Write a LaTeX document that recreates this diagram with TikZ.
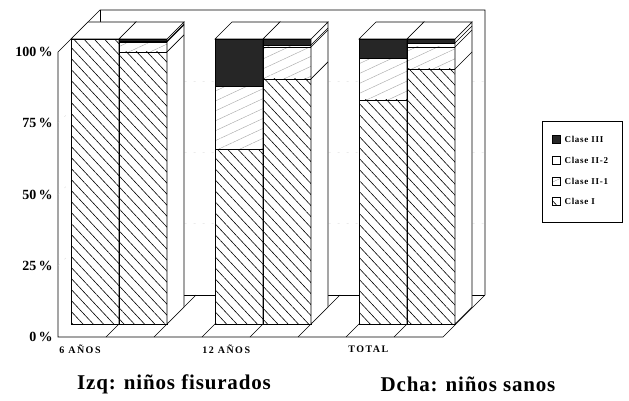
\documentclass[tikz,border=0pt]{standalone}
\usepackage{fontspec}
\setmainfont{Liberation Serif}
\usetikzlibrary{patterns.meta,positioning}

% barra 3D: #1 = x del borde izquierdo de la casilla; #2..#5 = topes acumulados (%)
\newcommand{\barra}[5]{%
  \pgfmathsetmacro{\ya}{76+2.85*#2}
  \pgfmathsetmacro{\yb}{76+2.85*#3}
  \pgfmathsetmacro{\yc}{76+2.85*#4}
  \pgfmathsetmacro{\yd}{76+2.85*#5}
  \pgfmathsetmacro{\xa}{#1+13}
  \pgfmathsetmacro{\xb}{#1+61}
  % cara frontal
  \fill[white] (\xa,76) rectangle (\xb,\yd);
  \fill[claseI] (\xa,76) rectangle (\xb,\ya);
  \fill[claseIIuno] (\xa,\ya) rectangle (\xb,\yb);
  \fill[claseIII] (\xa,\yc) rectangle (\xb,\yd);
  \draw (\xa,76) rectangle (\xb,\yd);
  \draw (\xa,\ya) -- (\xb,\ya) (\xa,\yb) -- (\xb,\yb) (\xa,\yc) -- (\xb,\yc);
  % cara lateral
  \draw[fill=white] (\xb,76) -- ++(17,17) -- ++(0,\yd-76) -- (\xb,\yd) -- cycle;
  \draw (\xb,\ya) -- ++(17,17) (\xb,\yb) -- ++(17,17) (\xb,\yc) -- ++(17,17);
  % tapa
  \draw[fill=white] (\xa,\yd) -- ++(17,17) -- ++(48,0) -- (\xb,\yd) -- cycle;
}

\begin{document}
\begin{tikzpicture}[x=1pt,y=1pt,line width=0.6pt,
    claseI/.style={pattern={Lines[angle=-47,distance=7.5pt,line width=0.6pt]}},
    claseIIuno/.style={pattern={Lines[angle=25,distance=9pt,line width=0.4pt]},pattern color=gray!70},
    claseIII/.style={fill=black!85},
    rejilla/.style={gray!45,line width=0.3pt,dash pattern=on 2pt off 7pt},
    eje/.style={font=\bfseries\fontsize{14}{14}\selectfont,anchor=east,inner sep=0pt},
    cat/.style={font=\bfseries\fontsize{10}{10}\selectfont\addfontfeatures{LetterSpace=15},anchor=west,inner sep=0pt},
    titulo/.style={font=\bfseries\fontsize{21}{21}\selectfont\addfontfeatures{LetterSpace=4},inner sep=0pt},
    muestra/.style={draw,line width=0.5pt,minimum size=8pt,inner sep=0pt},
    leyenda/.style={font=\bfseries\fontsize{9}{9}\selectfont\addfontfeatures{LetterSpace=8},inner sep=0pt}]
\useasboundingbox (0,0) rectangle (629,400);

% paredes y suelo
\coordinate (O) at (58,63);
\coordinate (F) at (443,63);
\draw (O) -- (F) -- ++(42,42) -- ++(0,285) -- (100,390) -- (58,348) -- cycle;
\draw (100,390) -- (100,105) -- ++(385,0);
\foreach \k in {1,...,7}
  \draw (58+48*\k,63) -- ++(42,42);
% rejilla
\foreach \p in {25,50,75}
  \draw[rejilla] (58,63+2.85*\p) -- ++(42,42) -- ++(385,0);

% barras
\barra{58}{100}{100}{100}{100}
\barra{106}{95.5}{99}{99.3}{100}
\barra{202}{61.3}{83.5}{83.5}{100}
\barra{250}{86}{97.2}{97.9}{100}
\barra{346}{78.6}{93.3}{93.3}{100}
\barra{394}{89.5}{97.2}{98.6}{100}

% eje vertical
\foreach \p in {0,25,50,75,100}
  \node[eje] (e\p) at (53,63+2.85*\p) {\p\,\%};

% categorias
\node[cat] (c6) at (59,51) {6 AÑOS};
\node[cat] (c12) at (202,51) {12 AÑOS};
\node[cat] (ct) at (348,51) {TOTAL};

% leyenda
\node[draw,line width=0.5pt,minimum width=80pt,minimum height=101pt] (ley) at (582,228.5) {};
\node[muestra,claseIII] (m3) at (556,261) {};
\node[muestra] (m22) at (556,240) {};
\node[muestra,claseIIuno] (m21) at (556,219) {};
\node[muestra,claseI] (m1) at (556,199) {};
\node[leyenda,right=4pt of m3] (l3) {Clase III};
\node[leyenda,right=4pt of m22] (l22) {Clase II-2};
\node[leyenda,right=4pt of m21] (l21) {Clase II-1};
\node[leyenda,right=4pt of m1] (l1) {Clase I};

% titulos
\node[titulo] (izq) at (174,16) {Izq: niños fisurados};
\node[titulo] (dcha) at (468,16) {Dcha: niños sanos};
\end{tikzpicture}
\end{document}
